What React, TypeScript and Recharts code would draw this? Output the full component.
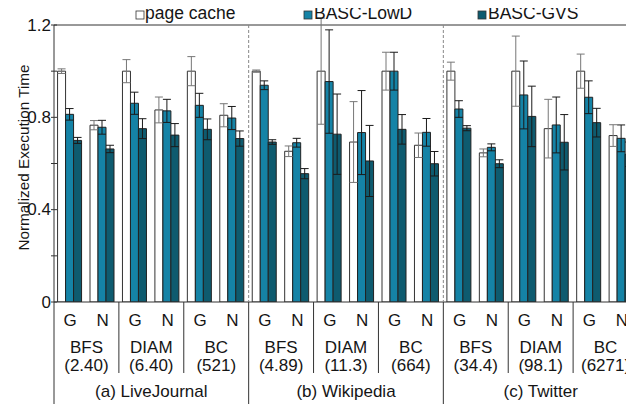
import React from 'react';
import { BarChart, Bar, XAxis, YAxis, ErrorBar, ReferenceLine, Legend } from 'recharts';

// chart data
const datasets = ['(a) LiveJournal', '(b) Wikipedia', '(c) Twitter'];
const algorithms = ['BFS', 'DIAM', 'BC', 'BFS', 'DIAM', 'BC', 'BFS', 'DIAM', 'BC'];
const runtimes = ['(2.40)', '(6.40)', '(521)', '(4.89)', '(11.3)', '(664)', '(34.4)', '(98.1)', '(6271)'];
const variants = ['G', 'N', 'G', 'N', 'G', 'N', 'G', 'N', 'G', 'N', 'G', 'N', 'G', 'N', 'G', 'N', 'G', 'N'];

const pageCache = [1.0, 0.766, 1.0, 0.832, 1.0, 0.809, 1.0, 0.653, 1.0, 0.693, 1.0, 0.679, 1.0, 0.646, 1.0, 0.751, 1.0, 0.721];
const pageCacheErr = [0.01, 0.02, 0.05, 0.056, 0.063, 0.05, 0.005, 0.023, 0.23, 0.175, 0.082, 0.053, 0.039, 0.017, 0.152, 0.127, 0.074, 0.047];
const lowD = [0.813, 0.757, 0.861, 0.828, 0.852, 0.797, 0.939, 0.69, 0.955, 0.734, 1.0, 0.735, 0.836, 0.67, 0.897, 0.767, 0.887, 0.709];
const lowDErr = [0.025, 0.03, 0.048, 0.05, 0.052, 0.05, 0.019, 0.019, 0.224, 0.182, 0.082, 0.06, 0.036, 0.015, 0.147, 0.121, 0.071, 0.058];
const gvs = [0.7, 0.663, 0.751, 0.723, 0.748, 0.708, 0.693, 0.556, 0.727, 0.611, 0.748, 0.599, 0.753, 0.599, 0.804, 0.692, 0.777, 0.64];
const gvsErr = [0.013, 0.016, 0.043, 0.05, 0.045, 0.033, 0.01, 0.022, 0.174, 0.154, 0.064, 0.053, 0.011, 0.017, 0.131, 0.12, 0.062, 0.053];

const yTicks = [0, 0.2, 0.4, 0.6, 0.8, 1.0, 1.2];
const yLabelled = [0, 0.4, 0.8, 1.2];

const data = variants.map((v, i) => ({
  variant: v,
  pc: pageCache[i],
  pcErr: pageCacheErr[i],
  lowd: lowD[i],
  lowdErr: lowDErr[i],
  gvs: gvs[i],
  gvsErr: gvsErr[i],
}));

const FONT = '"Liberation Sans", Arial, Helvetica, sans-serif';
const INK = '#151515';
const LOWD_COLOR = '#1583a6';
const GVS_COLOR = '#0e5b6f';

// layout (svg coords)
const W = 640;
const H = 396;
const PLOT_LEFT = 46;
const PLOT_RIGHT = 630;
const PLOT_TOP = 17;
const PLOT_BOTTOM = 294;
const BAND = (PLOT_RIGHT - PLOT_LEFT) / variants.length;

const XTick = (props: any) => {
  const { x, payload } = props;
  const i: number = props.index ?? payload.index;
  const left = x - BAND / 2;
  return (
    <g fontFamily={FONT} fill={INK}>
      <text x={x} y={312} textAnchor="middle" dominantBaseline="central" fontSize={17} fill={INK}>
        {payload.value}
      </text>
      {i % 2 === 0 && (
        <g>
          <text x={x + BAND / 2} y={339.5} textAnchor="middle" dominantBaseline="central" fontSize={17} fill={INK}>
            {algorithms[i / 2]}
          </text>
          <text x={x + BAND / 2} y={357} textAnchor="middle" dominantBaseline="central" fontSize={17} fill={INK}>
            {runtimes[i / 2]}
          </text>
        </g>
      )}
      {i % 6 === 0 && (
        <g>
          <text x={x + BAND * 2.5} y={383} textAnchor="middle" dominantBaseline="central" fontSize={17} fill={INK}>
            {datasets[i / 6]}
          </text>
          <line x1={left} y1={PLOT_BOTTOM} x2={left} y2={H} stroke="#333" strokeWidth={1} />
          {i > 0 && (
            <line x1={left} y1={PLOT_TOP} x2={left} y2={PLOT_BOTTOM} stroke="#888" strokeWidth={1} strokeDasharray="3 2" />
          )}
        </g>
      )}
      {i % 2 === 0 && i % 6 !== 0 && (
        <line x1={left} y1={PLOT_BOTTOM} x2={left} y2={365} stroke="#333" strokeWidth={1} />
      )}
    </g>
  );
};

const YTick = (props: any) => {
  const { y, payload } = props;
  const v: number = payload.value;
  const first = (props.index ?? 0) === 0;
  return (
    <g fontFamily={FONT}>
      <line x1={PLOT_LEFT - 3} y1={y} x2={PLOT_LEFT + 3} y2={y} stroke="#333" strokeWidth={1} />
      {yLabelled.some((t) => Math.abs(t - v) < 1e-6) && (
        <text x={43} y={y} textAnchor="end" dominantBaseline="central" fontSize={17} fill={INK}>
          {v === 0 ? '0' : v.toFixed(1)}
        </text>
      )}
      {first && (
        <text
          x={15}
          y={149.5}
          transform="rotate(-90 15 149.5)"
          textAnchor="middle"
          dominantBaseline="central"
          fontSize={15.3}
          fill={INK}
        >
          Normalized Execution Time
        </text>
      )}
    </g>
  );
};

const legendItems = [
  { name: 'page cache', color: '#ffffff', square: 128, text: 137 },
  { name: 'BASC-LowD', color: LOWD_COLOR, square: 296, text: 306 },
  { name: 'BASC-GVS', color: GVS_COLOR, square: 470, text: 480 },
];

const renderLegend = () => (
  <svg width={W} height={24} style={{ display: 'block', overflow: 'visible' }}>
    {legendItems.map((it) => (
      <g key={it.name}>
        <rect x={it.square} y={3} width={8} height={8} fill={it.color} stroke="#333" strokeWidth={0.8} />
        <text x={it.text} y={10.5} fontFamily={FONT} fontSize={17.5} fill={INK}>
          {it.name}
        </text>
      </g>
    ))}
  </svg>
);

const App: React.FC = () => {
  return (
    <div
      style={{
        width: 626,
        height: H + 8,
        marginTop: -8,
        paddingTop: 8,
        boxSizing: 'border-box',
        overflow: 'hidden',
      }}
    >
      <div style={{ position: 'relative', width: W, height: H, overflow: 'visible' }}>
        <BarChart
          width={W}
          height={H}
          data={data}
          margin={{ top: PLOT_TOP, right: W - PLOT_RIGHT, bottom: 0, left: 0 }}
          barCategoryGap="11%"
          barGap={0}
          style={{ overflow: 'visible' }}
        >
          <XAxis
            dataKey="variant"
            height={H - PLOT_BOTTOM}
            interval={0}
            tickLine={false}
            axisLine={{ stroke: '#333' }}
            tick={<XTick />}
          />
          <YAxis
            width={PLOT_LEFT}
            domain={[0, 1.2]}
            ticks={yTicks}
            allowDataOverflow
            tickLine={false}
            axisLine={{ stroke: '#333' }}
            tick={<YTick />}
          />
          <ReferenceLine y={1.2} stroke="#333" strokeWidth={1} />
          <Legend
            layout="horizontal"
            verticalAlign="middle"
            wrapperStyle={{ top: 0, left: 0, width: W, height: 24, overflow: 'visible' }}
            content={renderLegend}
          />
          <Bar dataKey="pc" name="page cache" fill="#ffffff" stroke="#333" strokeWidth={1} isAnimationActive={false}>
            <ErrorBar dataKey="pcErr" width={4} strokeWidth={1} stroke="#777" direction="y" />
          </Bar>
          <Bar dataKey="lowd" name="BASC-LowD" fill={LOWD_COLOR} stroke="#222" strokeWidth={1} isAnimationActive={false}>
            <ErrorBar dataKey="lowdErr" width={4} strokeWidth={1} stroke="#1a1a1a" direction="y" />
          </Bar>
          <Bar dataKey="gvs" name="BASC-GVS" fill={GVS_COLOR} stroke="#222" strokeWidth={1} isAnimationActive={false}>
            <ErrorBar dataKey="gvsErr" width={4} strokeWidth={1} stroke="#1a1a1a" direction="y" />
          </Bar>
        </BarChart>
      </div>
    </div>
  );
};

export default App;
